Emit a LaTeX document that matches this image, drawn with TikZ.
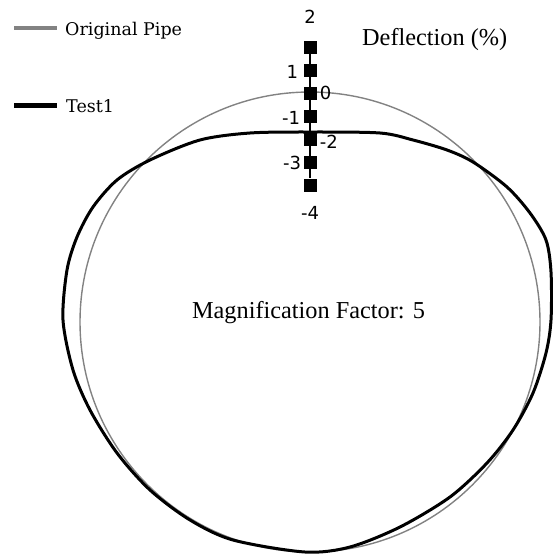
\documentclass[tikz,border=0pt]{standalone}
\usepackage{fontspec}
\setmainfont{Liberation Serif}
\newfontfamily\scalefont{DejaVu Sans}
\newfontfamily\legendfont{DejaVu Serif}
\usetikzlibrary{positioning}
\definecolor{pipegray}{RGB}{130,130,130}

\begin{document}
\begin{tikzpicture}[
  x=1pt, y=-1pt,
  legend/.style={font=\legendfont\fontsize{17.5}{20}\selectfont, anchor=base west, inner sep=0pt},
  title/.style={font=\fontsize{24.3}{28}\selectfont, inner sep=0pt},
  tick/.style={fill=black, minimum size=13pt, inner sep=0pt},
  ticklabel/.style={font=\scalefont\fontsize{18}{20}\selectfont, inner sep=0pt},
  original/.style={draw=pipegray, line width=1.4pt},
  test/.style={draw=black, line width=3pt},
  key/.style={line width=4.5pt}
]
\useasboundingbox (0,0) rectangle (553,557);

% legend
\node[legend] (origtxt) at (65,35) {Original Pipe};
\node[legend] (testtxt) at (66,112) {Test1};
\draw[key, pipegray] ([xshift=-51pt,yshift=7pt]origtxt.base west) -- ([xshift=-8pt,yshift=7pt]origtxt.base west);
\draw[key, black] ([xshift=-52pt,yshift=6.5pt]testtxt.base west) -- ([xshift=-9pt,yshift=6.5pt]testtxt.base west);

% pipe shapes
\draw[original] (310,322) circle[radius=230];
\draw[test] plot[smooth cycle] coordinates {
  (310,132) (380,133) (413,140) (447,150) (473,162) (507,187) (530,213)
  (546,240) (551,272) (551,320) (546,353) (533,393) (513,430) (487,463)
  (450,497) (400,527) (350,547) (305,552) (233,540) (190,520) (150,490)
  (117,453) (90,410) (73,370) (63,320) (67,270) (77,237) (93,207)
  (117,180) (150,160) (200,140) (250,133)};

% texts
\node[title, anchor=base west] (deflection) at (362,45) {Deflection (\%)};
\node[title, anchor=base] (magnif) at (308.5,318) {Magnification Factor: 5};

% deflection scale
\foreach \v [count=\i] in {2,1,0,-1,-2,-3,-4}
  \node[tick] (t\i) at (310,24+23*\i) {};
\draw[line width=1.5pt] (t1) -- (t7);
\node[ticklabel, above=17pt of t1] (l1) {2};
\node[ticklabel, left=5pt of t2, yshift=-2pt] (l2) {1};
\node[ticklabel, right=3pt of t3] (l3) {0};
\node[ticklabel, left=3pt of t4, yshift=-1.5pt] (l4) {-1};
\node[ticklabel, right=3pt of t5, yshift=-3pt] (l5) {-2};
\node[ticklabel, left=2pt of t6, yshift=-1pt] (l6) {-3};
\node[ticklabel, below=14pt of t7] (l7) {-4};
\end{tikzpicture}
\end{document}
